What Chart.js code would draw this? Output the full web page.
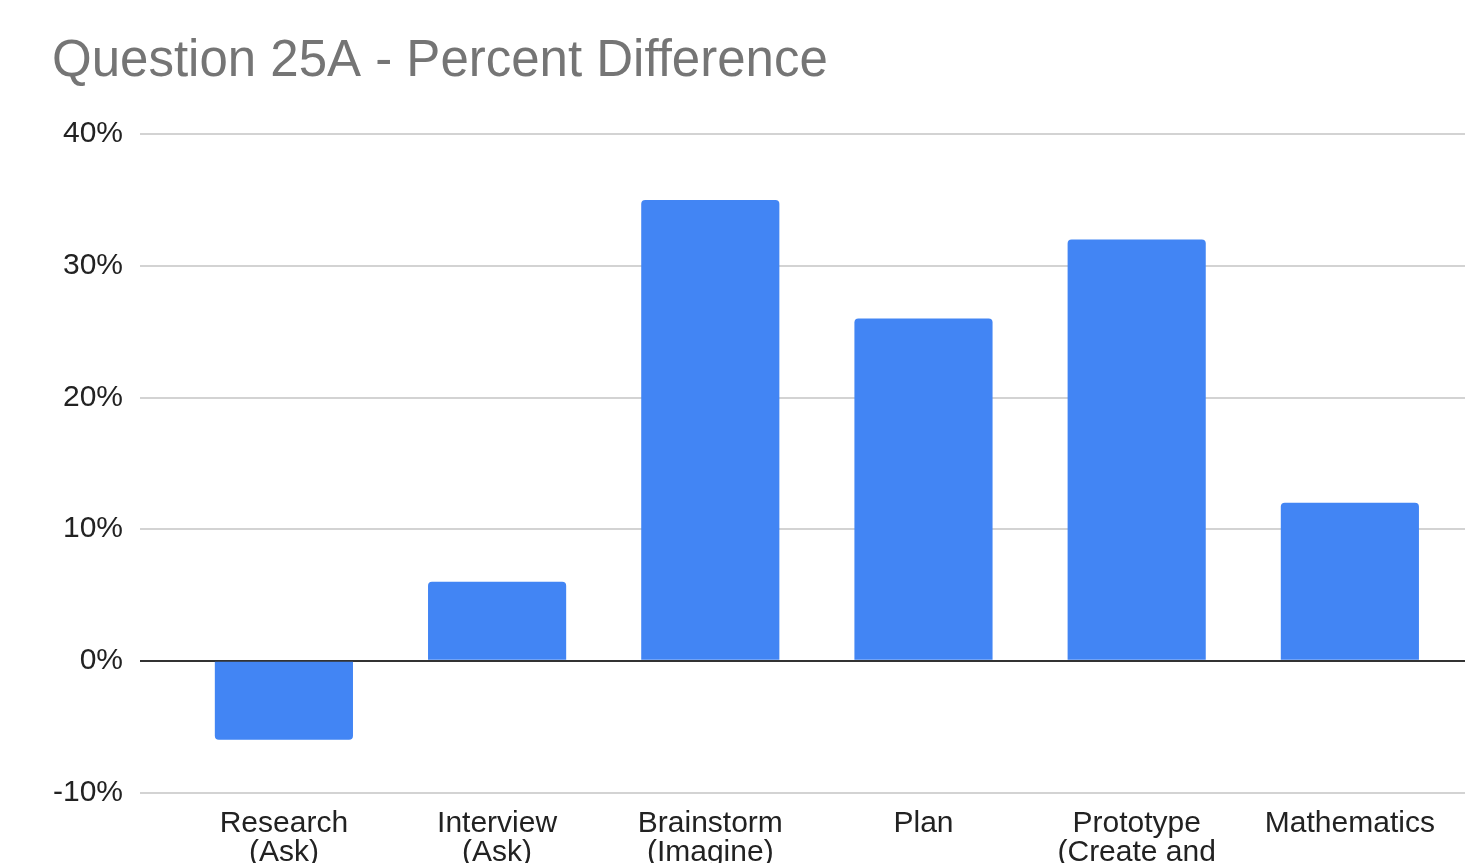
<!DOCTYPE html>
<html>
<head>
<meta charset="utf-8">
<script src="https://cdn.jsdelivr.net/npm/chart.js@4"></script>
<style>
  html, body { margin: 0; padding: 0; background: #fff; overflow: hidden; }
</style>
</head>
<body>
<canvas id="chart" width="1465" height="904"></canvas>
<script>
var categories = [
    ["Research", "(Ask)"],
    ["Interview", "(Ask)"],
    ["Brainstorm", "(Imagine)"],
    "Plan",
    ["Prototype", "(Create and", "Test)"],
    "Mathematics"
];
var percentDifference = [-6, 6, 35, 26, 32, 12];
var yTicks = [-10, 0, 10, 20, 30, 40];

var fontFamily = "'Liberation Sans', Arial, sans-serif";

new Chart(document.getElementById("chart"), {
    type: "bar",
    data: {
        datasets: [{
            label: "Percent Difference",
            data: percentDifference.map((v, i) => ({ x: i, y: v })),
            backgroundColor: "#4285f4",
            borderRadius: 4,
            borderSkipped: "start",
            barPercentage: 0.648,
            categoryPercentage: 1
        }]
    },
    options: {
        responsive: false,
        animation: false,
        layout: { padding: { left: 52, right: 0, top: 0, bottom: 0 } },
        plugins: {
            legend: { display: false },
            tooltip: { enabled: false },
            title: {
                display: true,
                text: "Question 25A - Percent Difference",
                align: "start",
                color: "#757575",
                font: { family: fontFamily, size: 51, weight: "normal" },
                padding: { top: 31, bottom: 42 }
            }
        },
        scales: {
            x: {
                type: "linear",
                offset: false,
                min: -0.675,
                max: 5.54,
                grid: { display: false },
                border: { display: false },
                ticks: {
                    stepSize: 1,
                    includeBounds: false,
                    autoSkip: false,
                    maxRotation: 0,
                    padding: 9,
                    color: "#222",
                    font: { family: fontFamily, size: 30, lineHeight: 0.95 },
                    callback: v => (Number.isInteger(v) && categories[v] !== undefined) ? categories[v] : ""
                }
            },
            y: {
                min: yTicks[0],
                max: yTicks[yTicks.length - 1],
                afterFit: scale => { scale.width = 88; },
                border: { display: false },
                grid: {
                    drawTicks: false,
                    color: ctx => ctx.tick && ctx.tick.value === 0 ? "#333333" : "#d3d3d3",
                    lineWidth: 2
                },
                ticks: {
                    stepSize: 10,
                    padding: 17,
                    color: "#222",
                    font: { family: fontFamily, size: 30 },
                    callback: v => v + "%"
                }
            }
        }
    }
});
</script>
</body>
</html>
